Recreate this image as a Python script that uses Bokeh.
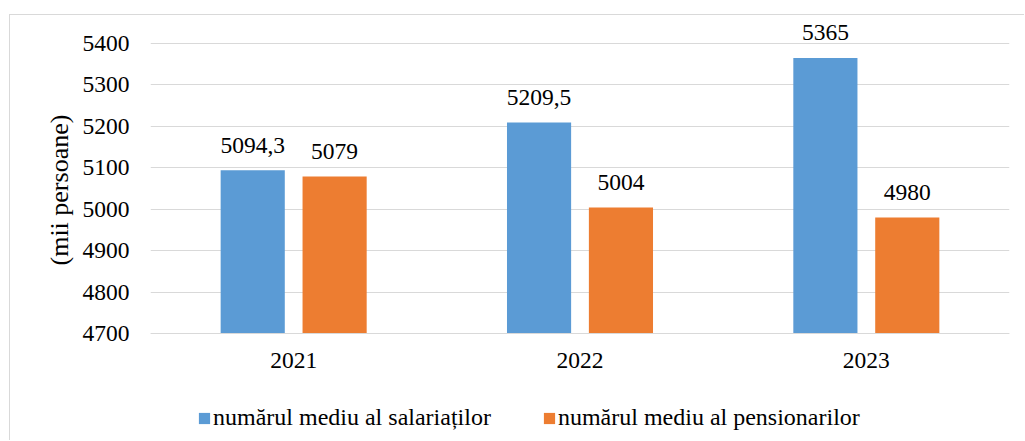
from bokeh.plotting import figure
from bokeh.models import (ColumnDataSource, FactorRange, Range1d, FixedTicker,
                          Legend, LegendItem, Title)
from bokeh.transform import dodge
from bokeh.core.properties import value
from bokeh.embed import file_html
from bokeh.resources import INLINE

# ---- data ----
years = ["2021", "2022", "2023"]
salariati = [5094.3, 5209.5, 5365]
pensionari = [5079, 5004, 4980]
y_ticks = [4700, 4800, 4900, 5000, 5100, 5200, 5300, 5400]
series_names = ["numărul mediu al salariaților", "numărul mediu al pensionarilor"]
y_title = "(mii persoane)"
colors = ["#5B9BD5", "#ED7D31"]


def fmt(v):
    return f"{v:g}".replace(".", ",")


src = ColumnDataSource(dict(
    years=years, sal=salariati, pen=pensionari,
    sal_lbl=[fmt(v) for v in salariati],
    pen_lbl=[fmt(v) for v in pensionari],
))

FONT = "Liberation Serif"
TXT = "#000000"
GRID = "#d9d9d9"

p = figure(width=1015, height=426,
           x_range=FactorRange(*years, range_padding=0),
           y_range=Range1d(4439.3, 5460.3),
           output_backend="svg", toolbar_location=None,
           min_border_left=140, min_border_right=16,
           min_border_top=3, min_border_bottom=0)
p.margin = (14, 0, 0, 9)
p.styles = {"border-top": "1px solid #d9d9d9", "border-left": "1px solid #d9d9d9"}
p.outline_line_color = None
p.background_fill_color = "white"
p.border_fill_color = "white"

off = 0.143
bw = 0.224
base = y_ticks[0]
r1 = p.vbar(x=dodge("years", -off, range=p.x_range), top="sal", bottom=base,
            width=bw, source=src, fill_color=colors[0], line_color=None)
r2 = p.vbar(x=dodge("years", off, range=p.x_range), top="pen", bottom=base,
            width=bw, source=src, fill_color=colors[1], line_color=None)

for col, lbl, o in (("sal", "sal_lbl", -off), ("pen", "pen_lbl", off)):
    p.text(x=dodge("years", o, range=p.x_range), y=col, text=lbl, source=src,
           text_align="center", text_baseline="alphabetic", y_offset=-25,
           text_font=value(FONT), text_font_size="23.5px", text_color=TXT)

# y axis
p.yaxis.ticker = FixedTicker(ticks=y_ticks)
p.yaxis.major_label_overrides = {t: str(t) for t in y_ticks}
p.ygrid.ticker = FixedTicker(ticks=y_ticks)
p.ygrid.grid_line_color = GRID
p.xgrid.visible = False
p.yaxis.axis_line_color = None
p.yaxis.major_tick_line_color = None
p.yaxis.minor_tick_line_color = None
p.yaxis.major_tick_out = 0
p.yaxis.major_label_standoff = 21
p.yaxis.major_label_text_font = FONT
p.yaxis.major_label_text_font_size = "23.5px"
p.yaxis.major_label_text_color = TXT

ytitle = Title(text=y_title, align="left", offset=176, standoff=12,
               text_font=FONT, text_font_style="normal", text_font_size="26px",
               text_color=TXT)
p.add_layout(ytitle, "left")

# x axis fixed at the base line
p.xaxis.fixed_location = base
p.xaxis.axis_line_color = GRID
p.xaxis.major_tick_line_color = None
p.xaxis.minor_tick_line_color = None
p.xaxis.major_tick_out = 0
p.xaxis.major_label_standoff = 20
p.xaxis.major_label_text_font = FONT
p.xaxis.major_label_text_font_size = "23.5px"
p.xaxis.major_label_text_color = TXT

legend = Legend(items=[LegendItem(label=series_names[0], renderers=[r1]),
                       LegendItem(label=series_names[1], renderers=[r2])],
                orientation="horizontal", location=(47, 10),
                padding=0, margin=0, border_line_color=None,
                background_fill_alpha=0,
                glyph_width=14, glyph_height=14, label_standoff=2, spacing=51,
                label_text_baseline="alphabetic",
                label_text_font=FONT, label_text_font_size="24px",
                label_text_color=TXT)
p.add_layout(legend)

open("out.html", "w").write(file_html(p, INLINE))
